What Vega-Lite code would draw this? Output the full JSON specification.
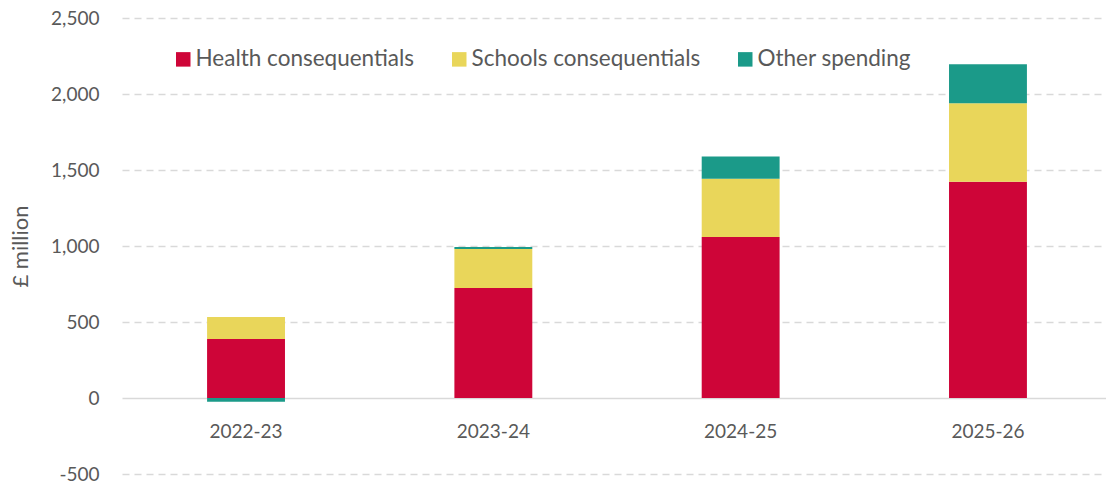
{
  "$schema": "https://vega.github.io/schema/vega-lite/v6.json",
  "width": 990,
  "height": 456,
  "autosize": "none",
  "padding": {"left": 122, "top": 18, "right": -6, "bottom": 14},
  "background": "white",
  "config": {
    "view": {"stroke": null},
    "font": "Lato",
    "text": {"font": "Lato"}
  },
  "data": {
    "values": [
      {"year": "2022-23", "category": "Health consequentials", "series_order": 1, "value": 388},
      {"year": "2022-23", "category": "Schools consequentials", "series_order": 2, "value": 145},
      {"year": "2022-23", "category": "Other spending", "series_order": 3, "value": -24},
      {"year": "2023-24", "category": "Health consequentials", "series_order": 1, "value": 724},
      {"year": "2023-24", "category": "Schools consequentials", "series_order": 2, "value": 256},
      {"year": "2023-24", "category": "Other spending", "series_order": 3, "value": 13},
      {"year": "2024-25", "category": "Health consequentials", "series_order": 1, "value": 1059},
      {"year": "2024-25", "category": "Schools consequentials", "series_order": 2, "value": 384},
      {"year": "2024-25", "category": "Other spending", "series_order": 3, "value": 145},
      {"year": "2025-26", "category": "Health consequentials", "series_order": 1, "value": 1423},
      {"year": "2025-26", "category": "Schools consequentials", "series_order": 2, "value": 516},
      {"year": "2025-26", "category": "Other spending", "series_order": 3, "value": 256}
    ]
  },
  "mark": {"type": "bar"},
  "encoding": {
    "x": {
      "field": "year",
      "type": "nominal",
      "scale": {"paddingInner": 0.685, "paddingOuter": 0.344},
      "axis": {
        "title": null,
        "orient": "bottom",
        "offset": -76,
        "domain": false,
        "ticks": false,
        "labelAngle": 0,
        "labelPadding": 24,
        "labelFontSize": 19,
        "labelColor": "#595959",
        "labelFont": "Lato"
      }
    },
    "y": {
      "field": "value",
      "type": "quantitative",
      "stack": "zero",
      "scale": {"domain": [-500, 2500], "nice": false, "zero": false},
      "axis": {
        "title": "£ million",
        "titleFontSize": 22,
        "titleFontWeight": "normal",
        "titleColor": "#595959",
        "titleFont": "Lato",
        "titlePadding": 18,
        "values": [-500, 0, 500, 1000, 1500, 2000, 2500],
        "labelExpr": "replace(format(datum.value, ',.0f'), '\u2212', '-')",
        "domain": false,
        "ticks": false,
        "labelPadding": 23,
        "labelFontSize": 19,
        "labelColor": "#595959",
        "labelFont": "Lato",
        "grid": true,
        "gridColor": "#d9d9d9",
        "gridWidth": 1.5,
        "gridDash": {"condition": {"test": "datum.value === 0", "value": []}, "value": [7, 5]}
      }
    },
    "order": {"field": "series_order", "type": "quantitative", "sort": "ascending"},
    "color": {
      "field": "category",
      "type": "nominal",
      "sort": ["Health consequentials", "Schools consequentials", "Other spending"],
      "scale": {
        "domain": ["Health consequentials", "Schools consequentials", "Other spending"],
        "range": ["#CE0538", "#E9D65A", "#1B9A89"]
      },
      "legend": {
        "title": null,
        "orient": "none",
        "legendX": 50,
        "legendY": 30,
        "direction": "horizontal",
        "symbolType": "square",
        "symbolSize": 210,
        "symbolStrokeWidth": 0,
        "labelFontSize": 22.5,
        "labelColor": "#595959",
        "labelFont": "Lato",
        "labelLimit": 0,
        "labelOffset": 1,
        "columnPadding": 33
      }
    }
  }
}
